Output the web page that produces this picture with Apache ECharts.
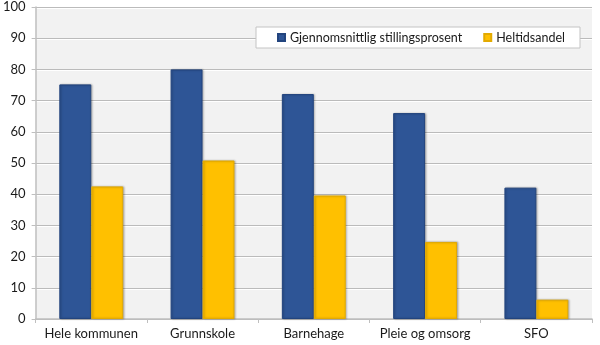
<!DOCTYPE html>
<html>
<head>
<meta charset="utf-8">
<script src="https://cdn.jsdelivr.net/npm/echarts@6/dist/echarts.min.js"></script>
<style>
  html, body { margin: 0; padding: 0; background: #fff; }
  #chart { width: 600px; height: 345px; }
</style>
</head>
<body>
<div id="chart"></div>
<script>
// Categories (sectors) and the two measures per sector
const categories = ['Hele kommunen', 'Grunnskole', 'Barnehage', 'Pleie og omsorg', 'SFO'];
const seriesNames = ['Gjennomsnittlig stillingsprosent', 'Heltidsandel'];
const avgPositionPct = [75.2, 80.0, 72.1, 66.0, 42.1];
const fullTimeShare = [42.5, 50.8, 39.6, 24.7, 6.2];
const yTicks = { min: 0, max: 100, step: 10 };

const chart = echarts.init(document.getElementById('chart'), null, { renderer: 'canvas' });

const fontFamily = 'Lato, "Liberation Sans", sans-serif';

function barStyle(fill, edge) {
  return {
    color: fill,
    borderColor: edge,
    borderWidth: 1,
    shadowColor: 'rgba(0,0,0,0.25)',
    shadowBlur: 2,
    shadowOffsetX: 1,
    shadowOffsetY: 0
  };
}

chart.setOption({
  animation: false,
  textStyle: { fontFamily: fontFamily },
  grid: {
    left: 34, right: 8, top: 7, bottom: 26,
    show: true, backgroundColor: '#F2F2F2', borderWidth: 0
  },
  legend: {
    data: seriesNames,
    left: 256, top: 27,
    padding: [4, 15, 4, 21],
    itemGap: 21,
    itemWidth: 7, itemHeight: 7,
    icon: 'rect',
    backgroundColor: '#FFFFFF',
    borderColor: '#C4C4C4',
    borderWidth: 1,
    textStyle: { fontSize: 12.5, color: '#1a1a1a', fontFamily: fontFamily }
  },
  xAxis: {
    type: 'category',
    data: categories,
    axisLine: { show: true, lineStyle: { color: '#BFBFBF', width: 1.5 } },
    axisTick: { show: true, length: 4, lineStyle: { color: '#BFBFBF' } },
    axisLabel: { fontSize: 13, color: '#1a1a1a', margin: 8, interval: 0 },
    splitLine: { show: false }
  },
  yAxis: {
    type: 'value',
    min: yTicks.min, max: yTicks.max, interval: yTicks.step,
    axisLine: { show: true, lineStyle: { color: '#BFBFBF', width: 1.5 } },
    axisTick: { show: true, length: 4, lineStyle: { color: '#BFBFBF' } },
    axisLabel: { fontSize: 13, color: '#1a1a1a', margin: 10 },
    splitLine: {
      show: true,
      lineStyle: { color: '#BBBBBB', width: 1.2, shadowColor: '#FFFFFF', shadowOffsetY: 1 }
    }
  },
  series: [
    {
      name: seriesNames[0],
      type: 'bar',
      data: avgPositionPct,
      barGap: '0%',
      barCategoryGap: '42.6%',
      itemStyle: barStyle('#2E5596', '#22447E')
    },
    {
      name: seriesNames[1],
      type: 'bar',
      data: fullTimeShare,
      barGap: '0%',
      barCategoryGap: '42.6%',
      itemStyle: barStyle('#FFC000', '#E3AA00')
    }
  ]
});
</script>
</body>
</html>
